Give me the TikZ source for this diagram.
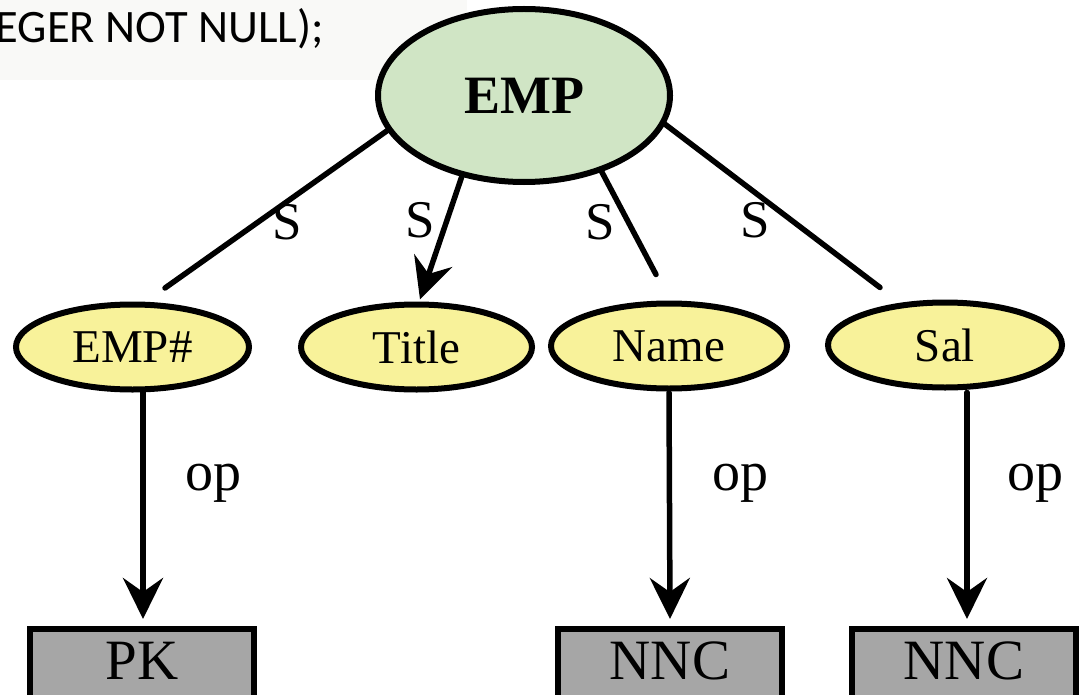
\documentclass[tikz,border=0pt]{standalone}
\usepackage{fontspec}
\setmainfont{Liberation Serif}
\newfontfamily\sqlfont{Carlito}
\usetikzlibrary{shapes.geometric,arrows.meta}
\definecolor{rootfill}{HTML}{D0E5C5}
\definecolor{attrfill}{HTML}{F8F29A}
\definecolor{consfill}{HTML}{A6A6A6}
\definecolor{stripfill}{HTML}{F9F9F7}
\begin{document}
\begin{tikzpicture}[x=1pt,y=-1pt,
  rootnode/.style={ellipse, draw, line width=6pt, fill=rootfill, inner sep=0pt, outer sep=0pt,
    minimum width=292pt, minimum height=173pt, font=\bfseries\fontsize{54}{60}\selectfont},
  attrnode/.style={ellipse, draw, line width=6pt, fill=attrfill, inner sep=0pt, outer sep=0pt,
    minimum height=85pt, font=\fontsize{47}{50}\selectfont},
  consbox/.style={rectangle, draw, line width=6.5pt, fill=consfill, outer sep=0pt,
    inner xsep=0pt, inner ysep=12pt, minimum width=224pt, text height=38pt, text depth=16pt,
    anchor=north, font=\fontsize{57}{60}\selectfont},
  edgelabel/.style={inner sep=0pt, font=\fontsize{53}{56}\selectfont},
  oplabel/.style={inner sep=0pt, anchor=base, font=\fontsize{56}{60}\selectfont},
  link/.style={line width=5.5pt, line cap=round},
  arrowlink/.style={link, -{Stealth[length=41pt,width=40pt,inset=14pt]}}]
\useasboundingbox (0,0) rectangle (1083,695);
\clip (0,0) rectangle (1083,695);

% SQL fragment strip behind the root
\fill[stripfill] (0,0) rectangle (467,80);
\node[anchor=base east, inner sep=0pt, font=\sqlfont\fontsize{46.5}{50}\selectfont] (sql) at (324,43) {EGER NOT NULL);};

% relation and its attributes
\node[rootnode] (emp) at (524,95.5) {EMP};
\node[attrnode, minimum width=233pt] (empno) at (132.5,347) {EMP\#};
\node[attrnode, minimum width=231pt] (title) at (416.5,347) {Title};
\node[attrnode, minimum width=236pt] (name) at (669,346) {Name};
\node[attrnode, minimum width=234pt] (sal) at (945,345) {Sal};

% constraint boxes
\node[consbox] (pk) at (142,629) {PK};
\node[consbox] (nnc1) at (670,629) {NNC};
\node[consbox] (nnc2) at (964,629) {NNC};

% structural links
\draw[link] (emp.194) -- ([xshift=32.5pt,yshift=16.5pt]empno.north);
\draw[arrowlink] (emp.232) -- ([xshift=3.5pt,yshift=5pt]title.north);
\draw[link] (emp.316.7) -- ([xshift=-13pt,yshift=29pt]name.north);
\draw[link] (emp.349) -- ([xshift=-65pt,yshift=15pt]sal.north);

\node[edgelabel] (s1) at (287,222) {S};
\node[edgelabel] (s2) at (420,220) {S};
\node[edgelabel] (s3) at (600,222) {S};
\node[edgelabel] (s4) at (755,220) {S};

% operation links
\draw[arrowlink] ([xshift=10.5pt,yshift=-3pt]empno.south) -- ([xshift=1pt,yshift=10pt]pk.north);
\draw[arrowlink] ([yshift=-4pt]name.south) -- ([yshift=10pt]nnc1.north);
\draw[arrowlink] ([xshift=22pt,yshift=-5pt]sal.south) -- ([xshift=3pt,yshift=10pt]nnc2.north);

\node[oplabel] (op1) at (213,490) {op};
\node[oplabel] (op2) at (740,490) {op};
\node[oplabel] (op3) at (1035,490) {op};
\end{tikzpicture}
\end{document}
